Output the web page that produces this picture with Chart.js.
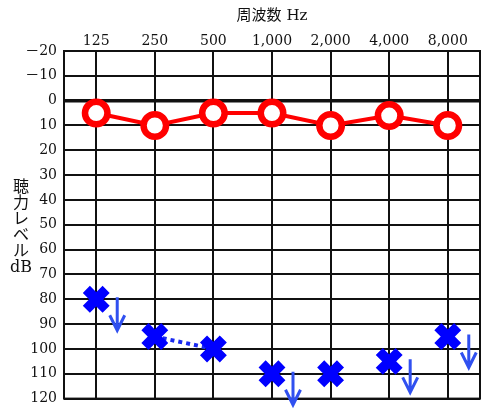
<!DOCTYPE html>
<html><head><meta charset="utf-8">
<script src="https://cdn.jsdelivr.net/npm/chart.js@4/dist/chart.umd.min.js"></script>
<style>html,body{margin:0;padding:0;background:#fff}#wrap{width:500px;height:414px}</style>
</head><body><div id="wrap"><canvas id="c" width="500" height="414"></canvas></div>
<script>
const freqLabels = ["125", "250", "500", "1,000", "2,000", "4,000", "8,000"];
const yTickValues = [-20, -10, 0, 10, 20, 30, 40, 50, 60, 70, 80, 90, 100, 110, 120];
const rightEar = [5, 10, 5, 5, 10, 6, 10];
const leftEar = [80, 95, 100, 110, 110, 105, 95];
const leftScaleOut = [true, false, false, true, false, true, true];
const leftDottedPairs = [[1, 2]];
const xTitle = "周波数 Hz";
const yTitleChars = ["聴", "力", "レ", "ベ", "ル", "dB"];

const FONT = "'DejaVu Serif', 'Noto Sans CJK JP', serif";

const dottedData = [];
leftDottedPairs.forEach(p => { p.forEach(i => dottedData.push({x: i, y: leftEar[i]})); dottedData.push({x: p[1] + 0.5, y: null}); });

const framePlugin = {
  id: 'frame',
  beforeDatasetsDraw(chart) {
    const {ctx, chartArea: a} = chart;
    ctx.save();
    ctx.strokeStyle = '#111';
    ctx.lineWidth = 2;
    ctx.strokeRect(a.left, a.top, a.right - a.left, a.bottom - a.top);
    ctx.restore();
  },
  afterDraw(chart) {
    const {ctx} = chart;
    const xs = chart.scales.x, ys = chart.scales.y;
    ctx.save();
    ctx.strokeStyle = '#3050f0';
    ctx.lineWidth = 3;
    ctx.lineCap = 'butt';
    leftScaleOut.forEach((on, i) => {
      if (!on) return;
      const x = xs.getPixelForValue(i) + 21;
      const y0 = ys.getPixelForValue(leftEar[i]) - 2;
      const y1 = y0 + 33;
      ctx.beginPath();
      ctx.moveTo(x, y0); ctx.lineTo(x, y1);
      ctx.moveTo(x - 7.5, y1 - 15); ctx.lineTo(x, y1); ctx.lineTo(x + 7.5, y1 - 15);
      ctx.stroke();
    });
    ctx.fillStyle = '#111';
    ctx.font = "16px " + FONT;
    ctx.textAlign = 'center';
    ctx.textBaseline = 'middle';
    yTitleChars.forEach((ch, k) => ctx.fillText(ch, 21, 188 + k * 16));
    ctx.restore();
  }
};

new Chart(document.getElementById('c'), {
  type: 'line',
  data: {
    datasets: [
      {
        label: 'left',
        data: leftEar.map((v, i) => ({x: i, y: v})),
        showLine: false,
        pointStyle: 'crossRot',
        pointRadius: 14,
        pointBorderWidth: 10,
        borderColor: '#0000ff',
        backgroundColor: '#0000ff'
      },
      {
        label: 'right',
        data: rightEar.map((v, i) => ({x: i, y: v})),
        borderColor: '#ff0000',
        borderWidth: 4,
        pointStyle: 'circle',
        pointRadius: 11.25,
        pointBorderWidth: 6.5,
        pointBackgroundColor: '#ffffff',
        pointBorderColor: '#ff0000'
      },
      {
        label: 'leftDotted',
        data: dottedData,
        borderColor: '#1a2af0',
        borderWidth: 4,
        borderDash: [4, 4],
        pointRadius: 0,
        spanGaps: false
      }
    ]
  },
  options: {
    responsive: false,
    animation: false,
    devicePixelRatio: 1,
    layout: {autoPadding: false, padding: {left: 0, right: 20, top: 0, bottom: 13}},
    plugins: {legend: {display: false}, tooltip: {enabled: false}},
    scales: {
      x: {
        type: 'linear',
        position: 'top',
        min: -0.55,
        max: 6.55,
        afterBuildTicks(s) { s.ticks = freqLabels.map((_, i) => ({value: i})); },
        afterFit(s) { s.height = 51; },
        ticks: {
          callback: (v) => freqLabels[v],
          font: {family: FONT, size: 14},
          color: '#111',
          padding: 1,
          maxRotation: 0,
          autoSkip: false
        },
        grid: {color: '#111', lineWidth: 2, drawTicks: false},
        border: {display: false},
        title: {display: true, text: xTitle, font: {family: FONT, size: 15}, color: '#111', padding: {top: 7, bottom: 0}}
      },
      y: {
        type: 'linear',
        reverse: true,
        min: -20,
        max: 120,
        afterBuildTicks(s) { s.ticks = yTickValues.map(v => ({value: v})); },
        afterFit(s) { s.width = 64; },
        ticks: {
          callback: (v) => (v < 0 ? '\uFF0D' + Math.abs(v) : String(v)),
          font: {family: FONT, size: 14},
          color: '#111',
          padding: 7,
          autoSkip: false
        },
        grid: {
          color: '#111',
          lineWidth: (c) => (c.tick && c.tick.value === 0 ? 3.5 : 2),
          drawTicks: false
        },
        border: {display: false}
      }
    }
  },
  plugins: [framePlugin]
});
</script>
</body></html>
